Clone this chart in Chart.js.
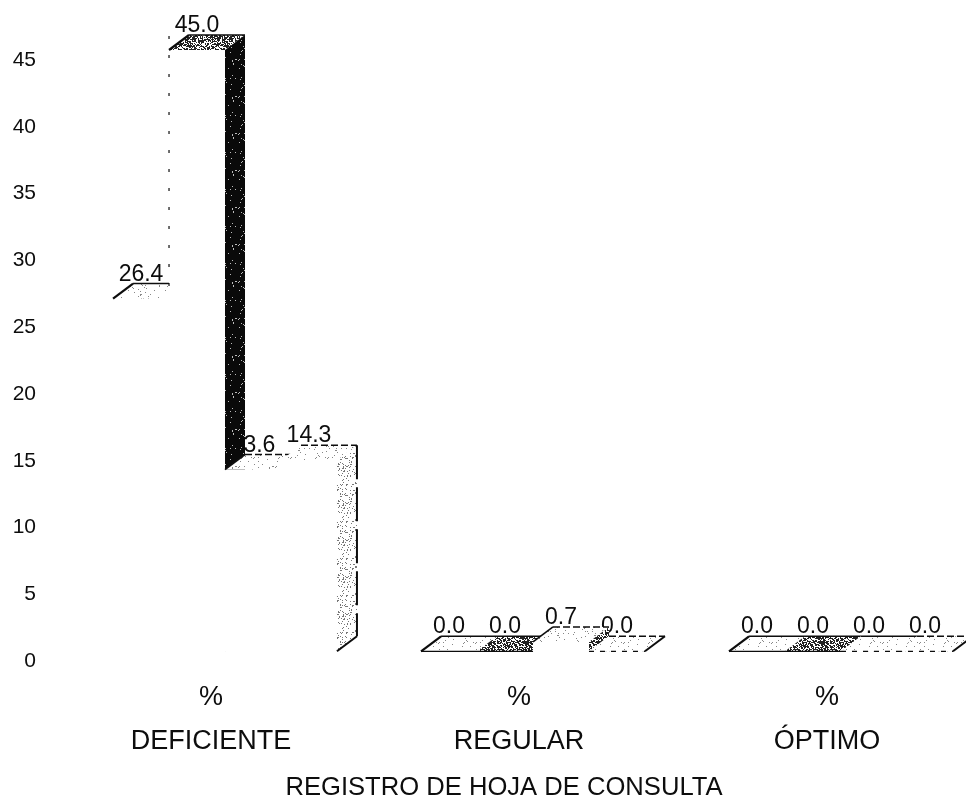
<!DOCTYPE html>
<html lang="es">
<head>
<meta charset="utf-8">
<title>Registro de hoja de consulta</title>
<script src="https://cdn.jsdelivr.net/npm/chart.js@4"></script>
<style>
    html, body { margin: 0; padding: 0; background: #fff; overflow: hidden; }
    #wrap { width: 966px; height: 803px; overflow: hidden; }
</style>
</head>
<body>
<div id="wrap"><canvas id="barChart" width="1008" height="803"></canvas></div>
<script>
const categorias = ['DEFICIENTE', 'REGULAR', 'ÓPTIMO'];
const unidad = '%';
const tituloEje = 'REGISTRO DE HOJA DE CONSULTA';
const ticksY = [0, 5, 10, 15, 20, 25, 30, 35, 40, 45];
const serie1 = [26.4, 0.0, 0.0];
const serie2 = [45.0, 0.0, 0.0];
const serie3 = [13.6, 0.7, 0.0];
const serie4 = [14.3, 0.0, 0.0];

const fuente = '"Liberation Sans", Arial, sans-serif';
const tinta = '#0d0d0d';
const fondoX = 20, fondoY = 15; // profundidad del efecto 3D

// Punteado de escaneo: tile fijo con densidad de puntos
function punteado(densidad, base, punto) {
    const t = document.createElement('canvas');
    t.width = t.height = 37;
    const c = t.getContext('2d');
    c.fillStyle = base;
    c.fillRect(0, 0, 37, 37);
    c.fillStyle = punto;
    for (let y = 0; y < 37; y++) {
        for (let x = 0; x < 37; x++) {
            const h = Math.sin(x * 12.9898 + y * 78.233) * 43758.5453;
            if (h - Math.floor(h) < densidad) c.fillRect(x, y, 1, 1);
        }
    }
    return c.createPattern(t, 'repeat');
}

const ctx = document.getElementById('barChart').getContext('2d');
const ralo = punteado(0.04, '#ffffff', '#888888');
const medio = punteado(0.14, '#ffffff', '#777777');
const denso = punteado(0.6, '#ffffff', '#222222');
const negro = punteado(0.04, '#0a0a0a', '#bbbbbb');

const caraSuperior = [ralo, denso, ralo, ralo];
const caraLateral = [ralo, negro, denso, medio];

function linea(c, x1, y1, x2, y2, ancho, guion) {
    c.save();
    c.strokeStyle = tinta;
    c.lineWidth = ancho;
    c.setLineDash(guion || []);
    c.beginPath();
    c.moveTo(x1, y1);
    c.lineTo(x2, y2);
    c.stroke();
    c.restore();
}

function cara(c, puntos, relleno) {
    c.fillStyle = relleno;
    c.beginPath();
    puntos.forEach((p, i) => i ? c.lineTo(p[0], p[1]) : c.moveTo(p[0], p[1]));
    c.closePath();
    c.fill();
}

const barras3d = {
    id: 'barras3d',
    // las barras se pintan aquí, de izquierda a derecha, para que tapen bien
    beforeDatasetDraw() { return false; },
    beforeDatasetsDraw(chart) {
        const c = chart.ctx;
        const datos = chart.data.datasets;
        const metas = datos.map((d, i) => chart.getDatasetMeta(i));

        // etiquetas primero: las caras laterales las tapan como en el original
        c.font = '23px ' + fuente;
        c.fillStyle = tinta;
        c.textAlign = 'center';
        c.textBaseline = 'alphabetic';
        metas.forEach((meta, s) => meta.data.forEach((b, j) => {
            c.fillText(datos[s].data[j].toFixed(1), b.x, b.y - fondoY - 3);
        }));

        categorias.forEach((cat, j) => {
            metas.forEach((meta, s) => {
                const b = meta.data[j];
                const v = datos[s].data[j];
                const izq = b.x - b.width / 2, der = b.x + b.width / 2;
                const base = b.base, y = b.y;
                b.draw(c);
                cara(c, [[izq, y], [izq + fondoX, y - fondoY], [der + fondoX, y - fondoY], [der, y]], caraSuperior[s]);
                // la cara lateral solo se ve si la barra siguiente es más baja
                const siguiente = s < 3 ? datos[s + 1].data[j] : 0;
                if (v > 0 && v > siguiente) {
                    cara(c, [[der, y], [der + fondoX, y - fondoY], [der + fondoX, base - fondoY], [der, base]], caraLateral[s]);
                }
                // aristas
                const yf = y - fondoY;
                linea(c, izq + fondoX, yf, der + fondoX, yf, 1.4, s === 3 || (s === 2 && v > 0) ? [7, 3] : []);
                if (s === 0) {
                    linea(c, izq, y, izq + fondoX, yf, 2.2);
                }
                if (s === 1 && v > 0) {
                    linea(c, izq, y, izq + fondoX, yf, 2.2);
                    linea(c, izq, y - 14, izq, chart.scales.y.getPixelForValue(serie1[j]), 1.2, [3, 16]);
                }
                if (s === 2 && v > 0) {
                    linea(c, izq, y, izq + fondoX, yf, 1.6);
                }
                if (v === 0) {
                    linea(c, izq, base, der, base, 1.3, s < 2 ? [] : [5, 6]);
                }
                if (s === 3) {
                    linea(c, der, base, der + fondoX, base - fondoY, 2);
                    if (v > 0) linea(c, der + fondoX, yf, der + fondoX, base - fondoY, 2, [34, 8]);
                }
            });
        });
    }
};

new Chart(ctx, {
    type: 'bar',
    data: {
        labels: categorias.map(n => [unidad, n]),
        datasets: [
            { label: 'Serie 1', data: serie1, backgroundColor: '#ffffff' },
            { label: 'Serie 2', data: serie2, backgroundColor: '#ffffff' },
            { label: 'Serie 3', data: serie3, backgroundColor: '#ffffff' },
            { label: 'Serie 4', data: serie4, backgroundColor: '#ffffff' }
        ]
    },
    options: {
        responsive: false,
        animation: false,
        devicePixelRatio: 1,
        layout: { padding: { top: 50, right: 13, bottom: 0, left: 13 } },
        datasets: { bar: { borderWidth: 0, barPercentage: 1, categoryPercentage: 0.727 } },
        plugins: {
            legend: { display: false },
            tooltip: { enabled: false },
            title: {
                display: true,
                text: tituloEje,
                position: 'bottom',
                color: tinta,
                padding: 0,
                font: { family: fuente, size: 25.6, weight: 'normal', lineHeight: 1.2 }
            }
        },
        scales: {
            x: {
                grid: { display: false },
                border: { display: false },
                afterFit: s => { s.height = 121; },
                ticks: {
                    color: tinta,
                    autoSkip: false,
                    maxRotation: 0,
                    padding: 16,
                    labelOffset: -14,
                    font: { family: fuente, size: 27, lineHeight: 1.63 }
                }
            },
            y: {
                min: 0,
                max: 45,
                grid: { display: false },
                border: { display: false },
                afterBuildTicks: s => { s.ticks = ticksY.map(v => ({ value: v })); },
                afterFit: s => { s.width = 58; },
                ticks: {
                    color: tinta,
                    padding: 27,
                    labelOffset: 10,
                    font: { family: fuente, size: 21 }
                }
            }
        }
    },
    plugins: [barras3d]
});
</script>
</body>
</html>
